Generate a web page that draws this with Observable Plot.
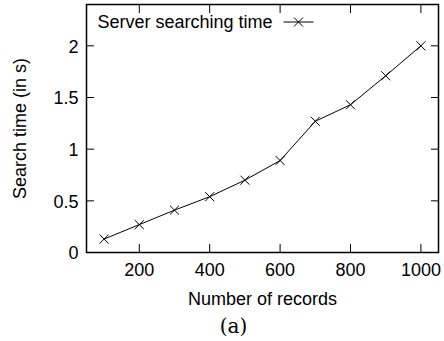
<!DOCTYPE html>
<html><head><meta charset="utf-8">
<script src="https://cdn.jsdelivr.net/npm/d3@7"></script>
<script src="https://cdn.jsdelivr.net/npm/@observablehq/plot@0.6"></script>
<style>
body{margin:0;background:#fff;}
#chart svg{display:block;}
</style></head><body><div id="chart"></div>
<script>
const records = [100,200,300,400,500,600,700,800,900,1000];
const searchTime = [0.13,0.27,0.41,0.54,0.70,0.89,1.27,1.43,1.71,2.00];
const xTicks = [200,400,600,800,1000];
const yTicks = [0,0.5,1,1.5,2];
const seriesName = "Server searching time";
const xLabel = "Number of records";
const yLabel = "Search time (in s)";
const caption = "(a)";

const data = records.map((r,i)=>({records:r, time:searchTime[i]}));

const legendSymbol = { draw(ctx, size) {
  ctx.moveTo(-15,0); ctx.lineTo(15,0);
  const r = 4.5;
  ctx.moveTo(-r,-r); ctx.lineTo(r,r);
  ctx.moveTo(-r,r); ctx.lineTo(r,-r);
} };

const tickLen = 8;
const plot = Plot.plot({
  width:444, height:341,
  marginTop:4, marginRight:6, marginBottom:89, marginLeft:86,
  style:{fontFamily:'"Liberation Sans", Arial, sans-serif', fontSize:"18px", color:"black", background:"white", overflow:"visible"},
  x:{domain:[50,1050]},
  y:{domain:[0,2.4]},
  marks:[
    Plot.axisX(xTicks,{anchor:"bottom", tickSize:0, tickPadding:11, tickFormat:d=>String(d), label:null, fontSize:18}),
    Plot.axisX(xTicks,{anchor:"bottom", tickSize:tickLen, text:null, label:null, dy:-tickLen}),
    Plot.axisX(xTicks,{anchor:"top", tickSize:tickLen, text:null, label:null, dy:tickLen}),
    Plot.axisY(yTicks,{anchor:"left", tickSize:0, tickPadding:8, tickFormat:d=>String(d), label:null, fontSize:18, dy:1}),
    Plot.axisY(yTicks,{anchor:"left", tickSize:tickLen, text:null, label:null, dx:tickLen}),
    Plot.axisY(yTicks,{anchor:"right", tickSize:tickLen, text:null, label:null, dx:-tickLen}),
    Plot.frame({stroke:"black", strokeWidth:1.5}),
    Plot.line(data,{x:"records", y:"time", stroke:"black", strokeWidth:1}),
    Plot.dot(data,{x:"records", y:"time", symbol:"times", r:4.2, stroke:"black", strokeWidth:1}),
    Plot.text([seriesName],{frameAnchor:"top-left", textAnchor:"start", lineAnchor:"middle", dx:11, dy:18, fontSize:18}),
    Plot.dot([seriesName],{frameAnchor:"top-left", symbol:legendSymbol, dx:212, dy:17.5, stroke:"black", strokeWidth:1}),
    Plot.text([yLabel],{frameAnchor:"left", textAnchor:"middle", rotate:-90, lineAnchor:"middle", dx:-66, fontSize:18}),
    Plot.text([xLabel],{frameAnchor:"bottom", textAnchor:"middle", lineAnchor:"middle", dy:47, fontSize:18}),
    Plot.text([caption],{frameAnchor:"bottom", textAnchor:"middle", lineAnchor:"middle", dy:73.6, dx:-29, fontFamily:"DejaVu Serif", fontSize:20})
  ]
});
document.getElementById("chart").appendChild(plot);
</script></body></html>
